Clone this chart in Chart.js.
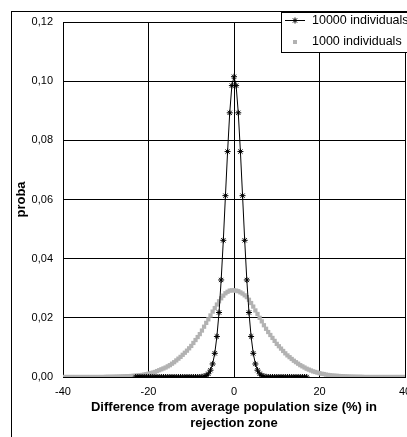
<!DOCTYPE html>
<html lang="en">
<head>
<meta charset="UTF-8">
<title>proba</title>
<script src="https://cdn.jsdelivr.net/npm/chart.js"></script>
<style>
    html, body { margin: 0; padding: 0; background: #fff; overflow: hidden; }
</style>
</head>
<body>
<canvas id="myChart" width="420" height="437"></canvas>
<script>
// difference from average population size (%), step 0.5
const diffPct = [
    -40, -39.5, -39, -38.5, -38, -37.5, -37, -36.5, -36, -35.5,
    -35, -34.5, -34, -33.5, -33, -32.5, -32, -31.5, -31, -30.5,
    -30, -29.5, -29, -28.5, -28, -27.5, -27, -26.5, -26, -25.5,
    -25, -24.5, -24, -23.5, -23, -22.5, -22, -21.5, -21, -20.5,
    -20, -19.5, -19, -18.5, -18, -17.5, -17, -16.5, -16, -15.5,
    -15, -14.5, -14, -13.5, -13, -12.5, -12, -11.5, -11, -10.5,
    -10, -9.5, -9, -8.5, -8, -7.5, -7, -6.5, -6, -5.5,
    -5, -4.5, -4, -3.5, -3, -2.5, -2, -1.5, -1, -0.5,
    0, 0.5, 1, 1.5, 2, 2.5, 3, 3.5, 4, 4.5,
    5, 5.5, 6, 6.5, 7, 7.5, 8, 8.5, 9, 9.5,
    10, 10.5, 11, 11.5, 12, 12.5, 13, 13.5, 14, 14.5,
    15, 15.5, 16, 16.5, 17, 17.5, 18, 18.5, 19, 19.5,
    20, 20.5, 21, 21.5, 22, 22.5, 23, 23.5, 24, 24.5,
    25, 25.5, 26, 26.5, 27, 27.5, 28, 28.5, 29, 29.5,
    30, 30.5, 31, 31.5, 32, 32.5, 33, 33.5, 34, 34.5,
    35, 35.5, 36, 36.5, 37, 37.5, 38, 38.5, 39, 39.5,
    40
];

// 10000 individuals (null = no point)
const proba10000 = [
    null, null, null, null, null, null, null, null, null, null,
    null, null, null, null, null, null, null, null, null, null,
    null, null, null, null, null, null, null, null, null, null,
    null, null, null, null, 0, 0, 0, 0, 0, 0,
    0, 0, 0, 0, 0, 0, 0, 0, 0, 0,
    0, 0, 0, 0, 0, 0, 0, 0, 0, 0,
    0, 0, 0, 0, 0, 0.0001, 0.0002, 0.0005, 0.0011, 0.0023,
    0.0044, 0.0080, 0.0137, 0.0218, 0.0328, 0.0462, 0.0613, 0.0762, 0.0893, 0.0985,
    0.1015, 0.0985, 0.0893, 0.0762, 0.0613, 0.0462, 0.0328, 0.0218, 0.0137, 0.0080,
    0.0044, 0.0023, 0.0011, 0.0005, 0.0002, 0.0001, 0, 0, 0, 0,
    0, 0, 0, 0, 0, 0, 0, 0, 0, 0,
    0, 0, 0, 0, 0, null, null, null, null, null,
    null, null, null, null, null, null, null, null, null, null,
    null, null, null, null, null, null, null, null, null, null,
    null, null, null, null, null, null, null, null, null, null,
    null, null, null, null, null, null, null, null, null, null,
    null
];

// 1000 individuals
const proba1000 = [
    0, 0, 0, 0, 0, 0, 0, 0, 0, 0,
    0, 0, 0, 0, 0, 0, 0, 0, 0, 0,
    0.00005, 0.00006, 0.00007, 0.00008, 0.0001, 0.00012, 0.00014, 0.00017, 0.0002, 0.00023,
    0.00026, 0.0003, 0.00034, 0.0004, 0.00046, 0.00053, 0.0006, 0.0007, 0.0008, 0.00095,
    0.0011, 0.0013, 0.0015, 0.0017, 0.0020, 0.0023, 0.0026, 0.0029, 0.0032, 0.0036,
    0.0040, 0.0045, 0.0050, 0.0056, 0.0062, 0.0068, 0.0075, 0.0082, 0.0089, 0.0097,
    0.0105, 0.0115, 0.0125, 0.0135, 0.0145, 0.0157, 0.0170, 0.0183, 0.0195, 0.0208,
    0.0221, 0.0233, 0.0245, 0.0256, 0.0266, 0.0275, 0.0283, 0.0288, 0.0292, 0.0293,
    0.0293, 0.0292, 0.0290, 0.0286, 0.0282, 0.0276, 0.0270, 0.0261, 0.0250, 0.0238,
    0.0225, 0.0213, 0.0200, 0.0188, 0.0175, 0.0163, 0.0152, 0.0142, 0.0132, 0.0122,
    0.0112, 0.0104, 0.0096, 0.0088, 0.0080, 0.0073, 0.0067, 0.0061, 0.0055, 0.0050,
    0.0045, 0.0040, 0.0036, 0.0032, 0.0028, 0.0025, 0.0022, 0.0019, 0.0017, 0.0015,
    0.0013, 0.0011, 0.0010, 0.0008, 0.0007, 0.0006, 0.0005, 0.00045, 0.0004, 0.00035,
    0.0003, 0.00025, 0.0002, 0.00017, 0.00014, 0.00012, 0.0001, 0.00008, 0.00007, 0.00006,
    0.00005, 0, 0, 0, 0, 0, 0, 0, 0, 0,
    0, 0, 0, 0, 0, 0, 0, 0, 0, 0,
    0
];

const seriesNames = ['10000 individuals', '1000 individuals'];
const xTickLabels = ['-40', '-20', '0', '20', '40'];
const yTickLabels = ['0,00', '0,02', '0,04', '0,06', '0,08', '0,10', '0,12'];

const grayColor = '#b2b2b2';
const fontFamily = "'Liberation Sans', Arial, sans-serif";

function toPoints(values) {
    return diffPct.map(function (x, i) {
        return { x: x, y: values[i] };
    });
}

// white background + outer frame (excel chart area border)
const frame = {
    id: 'frame',
    beforeDraw(chart) {
        const ctx = chart.ctx;
        ctx.save();
        ctx.fillStyle = '#fff';
        ctx.fillRect(0, 0, chart.width, chart.height);
        ctx.strokeStyle = '#000';
        ctx.lineWidth = 1;
        ctx.strokeRect(11.5, 11.5, 600, 600);
        ctx.restore();
    }
};

// legend box in the top right corner
const boxLegend = {
    id: 'boxLegend',
    afterDraw(chart) {
        const ctx = chart.ctx;
        ctx.save();
        ctx.fillStyle = '#fff';
        ctx.fillRect(281.5, 12.5, 200, 40);
        ctx.strokeStyle = '#000';
        ctx.lineWidth = 1;
        ctx.strokeRect(281.5, 12.5, 200, 40);

        // entry 1: line + star
        ctx.beginPath();
        ctx.moveTo(285, 20.5);
        ctx.lineTo(305, 20.5);
        ctx.stroke();
        Chart.helpers.drawPoint(ctx, { pointStyle: 'star', radius: 3, borderWidth: 1 }, 295, 20.5);

        // entry 2: gray square
        ctx.fillStyle = grayColor;
        ctx.fillRect(293, 40, 4, 4);

        ctx.fillStyle = '#000';
        ctx.font = '12.5px ' + fontFamily;
        ctx.textBaseline = 'middle';
        ctx.fillText(seriesNames[0], 312, 21);
        ctx.fillText(seriesNames[1], 312, 42);
        ctx.restore();
    }
};

const config = {
    type: 'line',
    data: {
        datasets: [
            {
                label: seriesNames[0],
                data: toPoints(proba10000),
                borderColor: '#000',
                borderWidth: 1,
                pointStyle: 'star',
                pointRadius: 3,
                pointBorderColor: '#000',
                pointBorderWidth: 1,
                tension: 0,
                spanGaps: false
            },
            {
                label: seriesNames[1],
                data: toPoints(proba1000),
                showLine: false,
                pointStyle: 'rect',
                pointRadius: 3,
                pointBackgroundColor: grayColor,
                pointBorderColor: grayColor,
                pointBorderWidth: 0
            }
        ]
    },
    options: {
        responsive: false,
        animation: false,
        events: [],
        layout: { padding: { top: 22, right: 15, left: 0, bottom: 0 } },
        plugins: {
            legend: { display: false },
            tooltip: { enabled: false }
        },
        scales: {
            x: {
                type: 'linear',
                min: -40,
                max: 40,
                afterFit: function (scale) { scale.height = 60; },
                afterBuildTicks: function (scale) {
                    scale.ticks = xTickLabels.map(function (t) { return { value: Number(t) }; });
                },
                ticks: {
                    color: '#000',
                    padding: 8,
                    maxRotation: 0,
                    font: { family: fontFamily, size: 11 },
                    callback: function (v, i) { return xTickLabels[i]; }
                },
                grid: { color: '#000', drawTicks: false },
                border: { color: '#000' },
                title: {
                    display: true,
                    text: ['Difference from average population size (%) in', 'rejection zone'],
                    color: '#000',
                    padding: { top: 0, bottom: 6 },
                    font: { family: fontFamily, size: 13, weight: 'bold', lineHeight: 1.2 }
                }
            },
            y: {
                min: 0,
                max: 0.12,
                afterFit: function (scale) { scale.width = 63; },
                afterBuildTicks: function (scale) {
                    scale.ticks = yTickLabels.map(function (t) { return { value: Number(t.replace(',', '.')) }; });
                },
                ticks: {
                    color: '#000',
                    padding: 10,
                    font: { family: fontFamily, size: 11 },
                    callback: function (v, i) { return yTickLabels[i]; }
                },
                grid: { color: '#000', drawTicks: false },
                border: { color: '#000' },
                title: {
                    display: true,
                    text: 'proba',
                    color: '#000',
                    padding: { top: 14, bottom: 0 },
                    font: { family: fontFamily, size: 13, weight: 'bold', lineHeight: 1.2 }
                }
            }
        }
    },
    plugins: [frame, boxLegend]
};

const myChart = new Chart(document.getElementById('myChart'), config);
</script>
</body>
</html>
